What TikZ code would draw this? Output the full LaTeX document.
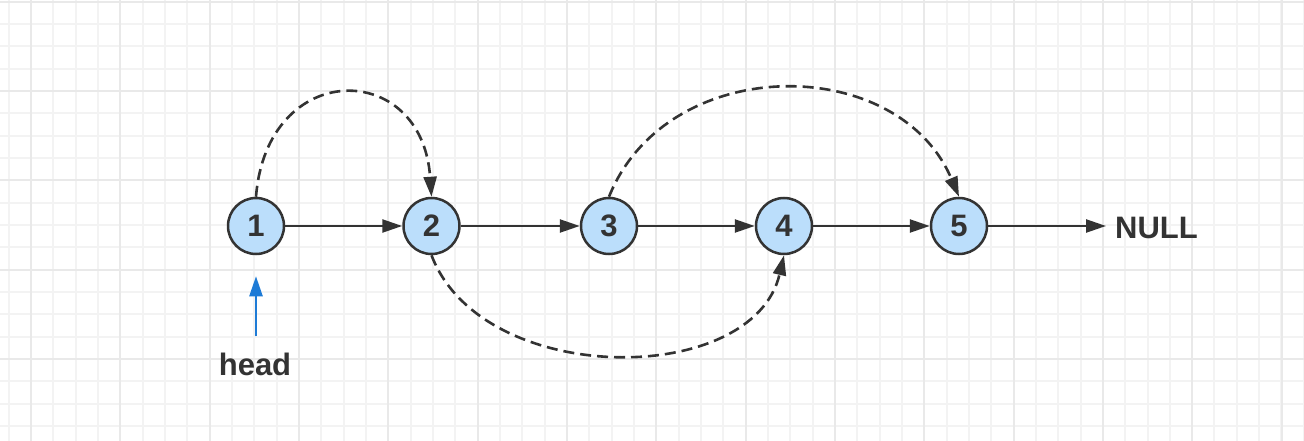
\documentclass[tikz,border=0pt]{standalone}
\usepackage{fontspec}
\setmainfont{Liberation Sans}
\usetikzlibrary{arrows.meta}
\definecolor{ink}{HTML}{333333}
\definecolor{nodefill}{HTML}{BBDEFB}
\definecolor{headblue}{HTML}{1E7BD6}
\definecolor{gridfine}{HTML}{F3F3F3}
\definecolor{gridmajor}{HTML}{E9E9E9}
\begin{document}
\begin{tikzpicture}[x=1pt,y=-1pt,
  listnode/.style={circle, draw=ink, fill=nodefill, line width=2.5pt, minimum size=56pt, inner sep=0pt, text=ink, font=\fontsize{31}{36}\selectfont\bfseries},
  link/.style={draw=ink, line width=2.4pt, -{Triangle[length=20pt,width=13pt]}},
  skiplink/.style={draw=ink, line width=2.6pt, dash pattern=on 11pt off 6pt, -{Triangle[length=20pt,width=13pt]}},
  headlink/.style={draw=headblue, line width=2.4pt, -{Triangle[length=20pt,width=13pt]}},
  wordtext/.style={text=ink, font=\fontsize{31}{36}\selectfont\bfseries, inner sep=0pt},
  finegrid/.style={draw=gridfine, line width=2pt},
  majorgrid/.style={draw=gridmajor, line width=2pt}
]
\useasboundingbox (0,0) rectangle (1304,441);
\fill[white] (0,0) rectangle (1304,441);
\begin{scope}
\clip (0,0) rectangle (1304,441);
\foreach \i in {0,...,58} \draw[finegrid] ({round(8.67+22.33*\i)},0) -- ({round(8.67+22.33*\i)},441);
\foreach \j in {0,...,20} \draw[finegrid] (0,{round(1.7+22.33*\j)}) -- (1304,{round(1.7+22.33*\j)});
\foreach \i in {0,...,14} \draw[majorgrid] ({round(31+89.33*\i)},0) -- ({round(31+89.33*\i)},441);
\foreach \j in {0,...,4} \draw[majorgrid] (0,{round(1.7+89.33*\j)}) -- (1304,{round(1.7+89.33*\j)});
\end{scope}

\node[listnode] (n1) at (256,226) {1};
\node[listnode] (n2) at (431.5,226) {2};
\node[listnode] (n3) at (609,226) {3};
\node[listnode] (n4) at (784,226) {4};
\node[listnode] (n5) at (959,226) {5};

\node[wordtext, anchor=base west] (nul) at (1115,238) {NULL};
\node[wordtext, anchor=base] (headtxt) at (255,375) {head};

\draw[link] (n1) -- (n2);
\draw[link] (n2) -- (n3);
\draw[link] (n3) -- (n4);
\draw[link] (n4) -- (n5);
\draw[link, shorten >=9pt] (n5.east) -- (n5.east -| nul.west);

\draw[headlink, shorten <=16pt, shorten >=21pt] (n1.south |- headtxt.north) -- (n1.south);

\draw[skiplink] (n1.north) .. controls (267,58.7) and (422,58.7) .. (n2.north);
\draw[skiplink] (n3.north) .. controls (667,52.5) and (898,52.5) .. (n5.north);
\draw[skiplink] (n2.south) .. controls (482,388) and (753,388) .. (n4.south);
\end{tikzpicture}
\end{document}
